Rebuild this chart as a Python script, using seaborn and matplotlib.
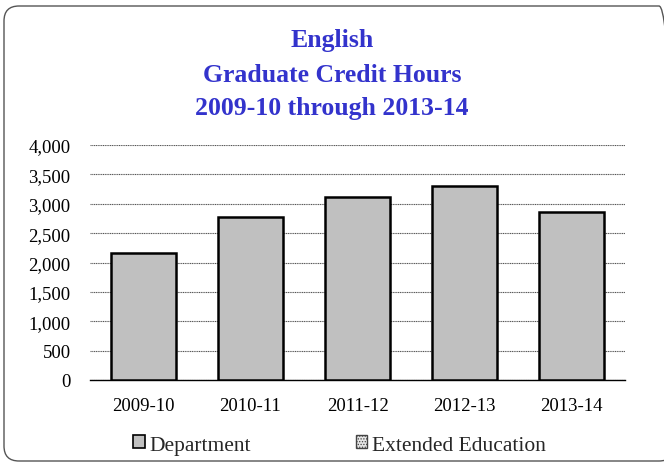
import matplotlib
matplotlib.use("Agg")
import matplotlib.pyplot as plt
import seaborn as sns
import pandas as pd
from matplotlib.patches import FancyBboxPatch, Patch
from matplotlib.ticker import FuncFormatter

years = ["2009-10", "2010-11", "2011-12", "2012-13", "2013-14"]
department = [2162, 2775, 3120, 3297, 2854]
extended = [0, 0, 0, 0, 0]
yticks = [0, 500, 1000, 1500, 2000, 2500, 3000, 3500, 4000]

sns.set_theme(style="white")
plt.rcParams["font.family"] = ["Liberation Serif", "DejaVu Serif"]
plt.rcParams["hatch.linewidth"] = 0.6
plt.rcParams["hatch.color"] = "#777777"

df = pd.DataFrame({"Year": years, "Department": department})

fig = plt.figure(figsize=(6.64, 4.64), dpi=100)
ax = fig.add_axes([90/664, 1 - 381/464, 535/664, (381 - 146)/464])

sns.barplot(data=df, x="Year", y="Department", ax=ax, color="#C0C0C0",
            edgecolor="black", linewidth=1.8, width=0.6, saturation=1, zorder=3)

ax.set_ylim(0, 4000)
ax.set_xlim(-0.5, 4.5)
ax.set_yticks(yticks)
ax.yaxis.set_major_formatter(FuncFormatter(lambda v, p: f"{int(v):,}"))
ax.grid(axis="y", color="#555555", linestyle=(0, (1, 0.6)), linewidth=0.8, zorder=0)
ax.set_axisbelow(True)
for s in ["top", "right", "left"]:
    ax.spines[s].set_visible(False)
ax.spines["bottom"].set_color("black")
ax.spines["bottom"].set_linewidth(1.0)
ax.set_xlabel("")
ax.set_ylabel("")
ax.tick_params(axis="both", length=0, labelsize=13.5, colors="black")
ax.tick_params(axis="y", pad=14)
ax.tick_params(axis="x", pad=12)

title_color = "#3333CC"
for t, yc in zip(["English", "Graduate Credit Hours", "2009-10 through 2013-14"], [41, 75, 109]):
    fig.text(0.5, 1 - yc / 464, t, ha="center", va="center",
             fontsize=18.5, fontweight="bold", color=title_color)

handles = [Patch(facecolor="#C0C0C0", edgecolor="black", linewidth=1.2, label="Department"),
           Patch(facecolor="#E6E6E6", edgecolor="#444444", linewidth=1.0, hatch="......", label="Extended Education")]
fig.legend(handles=handles, loc="center", bbox_to_anchor=(339.5/664, 1 - 446/464), ncol=2,
           frameon=False, fontsize=15.5, handlelength=0.55, handleheight=0.55,
           handletextpad=0.2, columnspacing=4.85, borderpad=0)

border = FancyBboxPatch((0.04, 0.02), 6.70, 4.55,
                        boxstyle="round,pad=0,rounding_size=0.15",
                        transform=fig.dpi_scale_trans, facecolor="none",
                        edgecolor="#555555", linewidth=1.0, clip_on=False)
fig.patches.append(border)

fig.savefig("out.png", dpi=100)
